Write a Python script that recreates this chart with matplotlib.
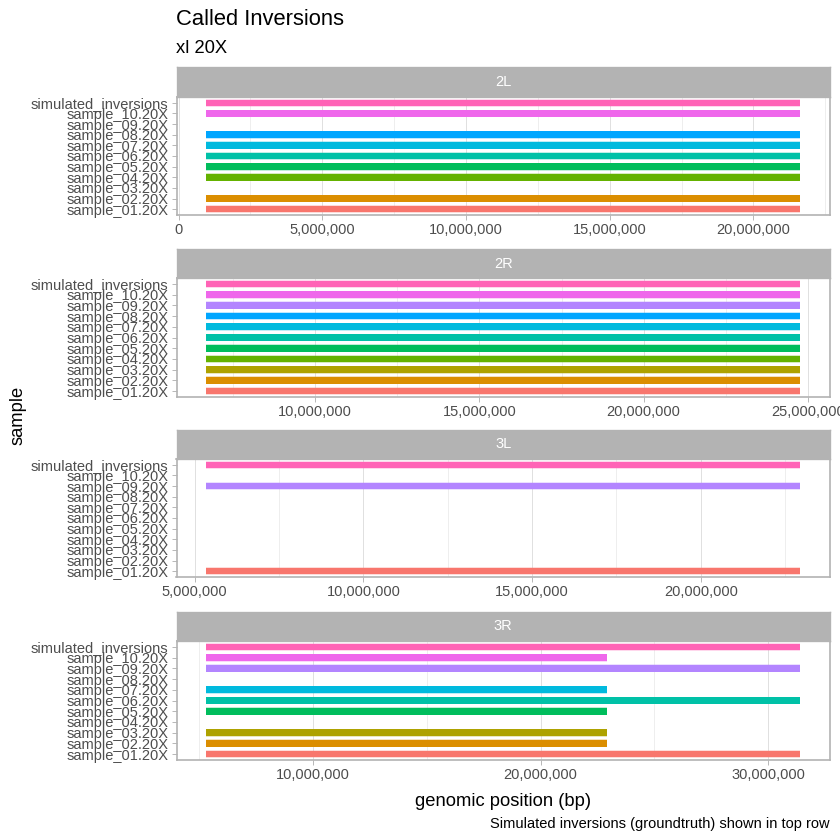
import matplotlib
matplotlib.use('Agg')
import matplotlib.pyplot as plt
from matplotlib.ticker import MultipleLocator, FuncFormatter

plt.rcParams['font.family'] = ['Liberation Sans', 'DejaVu Sans']

samples = ['sample_01.20X', 'sample_02.20X', 'sample_03.20X', 'sample_04.20X',
           'sample_05.20X', 'sample_06.20X', 'sample_07.20X', 'sample_08.20X',
           'sample_09.20X', 'sample_10.20X', 'simulated_inversions']
colors = ['#F8766D', '#DB8E00', '#AEA200', '#64B200', '#00BD5C', '#00C1A7',
          '#00BADE', '#00A6FF', '#B385FF', '#EF67EB', '#FF63B6']

chroms = ['2L', '2R', '3L', '3R']

# call start / end per sample (None = no call)
starts_2L = [960000, 960000, None, 960000, 960000, 960000, 960000, 960000, None, 960000, 960000]
ends_2L = [21630000, 21630000, None, 21630000, 21630000, 21630000, 21630000, 21630000, None, 21630000, 21630000]

starts_2R = [6680000, 6680000, 6680000, 6680000, 6680000, 6680000, 6680000, 6680000, 6680000, 6680000, 6680000]
ends_2R = [24770000, 24770000, 24770000, 24770000, 24770000, 24770000, 24770000, 24770000, 24770000, 24770000, 24770000]

starts_3L = [5340000, None, None, None, None, None, None, None, 5340000, None, 5340000]
ends_3L = [22950000, None, None, None, None, None, None, None, 22950000, None, 22950000]

starts_3R = [5330000, 5330000, 5330000, None, 5330000, 5330000, 5330000, None, 5330000, 5330000, 5330000]
ends_3R = [31400000, 22900000, 22900000, None, 22900000, 31400000, 22900000, None, 31400000, 22900000, 31400000]

starts = [starts_2L, starts_2R, starts_3L, starts_3R]
ends = [ends_2L, ends_2R, ends_3L, ends_3R]
major_steps = [5000000, 5000000, 5000000, 10000000]

W = 840.0
fig = plt.figure(figsize=(7, 7), dpi=120)


def box(left, top, right, bottom):
    return [left / W, 1 - bottom / W, (right - left) / W, (bottom - top) / W]


panel_rows = [(97, 215), (278, 397), (459, 577), (641, 760)]
strip_rows = [(67, 97), (249, 278), (430, 459), (612, 641)]
x_left, x_right = 176.5, 830.0

grid_col = '#DEDEDE'
border_col = '#B3B3B3'
text_col = '#4D4D4D'

for i, chrom in enumerate(chroms):
    top, bottom = panel_rows[i]
    ax = fig.add_axes(box(x_left, top, x_right, bottom))
    s_list, e_list = starts[i], ends[i]
    for j, name in enumerate(samples):
        if s_list[j] is None:
            continue
        ax.barh(j, e_list[j] - s_list[j], left=s_list[j], height=0.62,
                color=colors[j], edgecolor=(1, 1, 1, 0.0), linewidth=0, zorder=3)
        ax.barh(j, e_list[j] - s_list[j], left=s_list[j], height=0.74,
                color=colors[j], alpha=0.25, linewidth=0, zorder=2)
    vals = [v for v in s_list + e_list if v is not None]
    lo, hi = min(vals), max(vals)
    r = hi - lo
    ax.set_xlim(lo - 0.05 * r, hi + 0.05 * r)
    ax.set_ylim(-0.55, len(samples) - 0.45)
    ax.set_yticks(range(len(samples)))
    ax.set_yticklabels(samples)
    ax.xaxis.set_major_locator(MultipleLocator(major_steps[i]))
    ax.xaxis.set_minor_locator(MultipleLocator(major_steps[i] / 2))
    ax.xaxis.set_major_formatter(FuncFormatter(lambda v, p: f"{v:,.0f}"))
    ax.grid(True, axis='x', which='major', color=grid_col, linewidth=0.55, zorder=0)
    ax.grid(True, axis='x', which='minor', color=grid_col, linewidth=0.3, zorder=0)
    ax.set_axisbelow(True)
    for sp in ax.spines.values():
        sp.set_color(border_col)
        sp.set_linewidth(1.0)
    ax.tick_params(axis='both', which='major', colors=border_col, labelcolor=text_col,
                   labelsize=8.8, length=2.75, width=0.55, pad=2.2)
    ax.tick_params(axis='x', which='minor', length=0)

    st, sb = strip_rows[i]
    sax = fig.add_axes(box(x_left, st, x_right, sb))
    sax.set_facecolor('#B3B3B3')
    sax.set_xticks([])
    sax.set_yticks([])
    for sp in sax.spines.values():
        sp.set_color('#B3B3B3')
    sax.text(0.5, 0.5, chrom, color='white', fontsize=8.8, ha='center', va='center',
             transform=sax.transAxes)

fig.text(176.5 / W, 1 - 25 / W, 'Called Inversions', fontsize=13.2, ha='left', va='baseline')
fig.text(176.5 / W, 1 - 53 / W, 'xl 20X', fontsize=11, ha='left', va='baseline')
fig.text(503 / W, 1 - 806 / W, 'genomic position (bp)', fontsize=11, ha='center', va='baseline')
fig.text(830 / W, 1 - 828 / W, 'Simulated inversions (groundtruth) shown in top row',
         fontsize=8.8, ha='right', va='baseline')
fig.text(18 / W, 1 - 415 / W, 'sample', fontsize=11, rotation=90, ha='center', va='center')

fig.savefig('out.png', dpi=120)
